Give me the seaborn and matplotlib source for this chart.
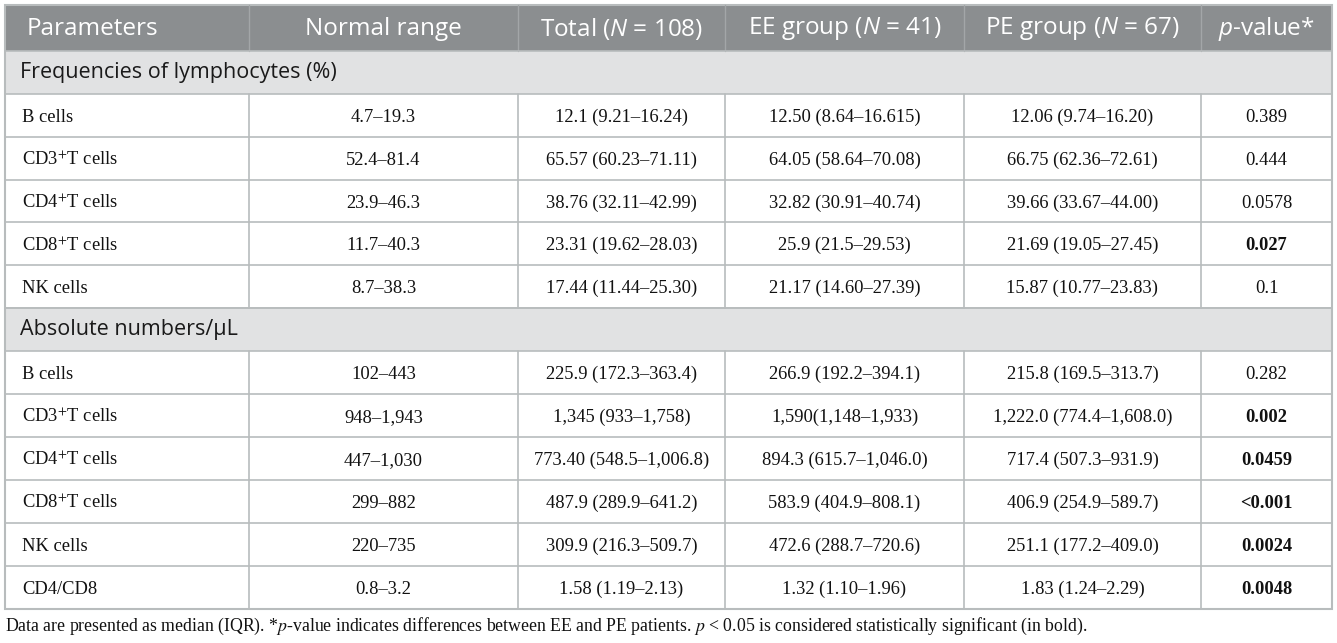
import numpy as np
import pandas as pd
import seaborn as sns
import matplotlib.pyplot as plt
from matplotlib.patches import Rectangle

# Table content
headers = ["Parameters", "Normal range", "Total ($N$ = 108)", "EE group ($N$ = 41)",
           "PE group ($N$ = 67)", "$p$-value*"]

sections = ["Frequencies of lymphocytes (%)", "Absolute numbers/\u03bcL"]

freq_params = ["B cells", "CD3$^{+}$T cells", "CD4$^{+}$T cells", "CD8$^{+}$T cells", "NK cells"]
freq_normal = ["4.7\u201319.3", "52.4\u201381.4", "23.9\u201346.3", "11.7\u201340.3", "8.7\u201338.3"]
freq_total = ["12.1 (9.21\u201316.24)", "65.57 (60.23\u201371.11)", "38.76 (32.11\u201342.99)",
              "23.31 (19.62\u201328.03)", "17.44 (11.44\u201325.30)"]
freq_ee = ["12.50 (8.64\u201316.615)", "64.05 (58.64\u201370.08)", "32.82 (30.91\u201340.74)",
           "25.9 (21.5\u201329.53)", "21.17 (14.60\u201327.39)"]
freq_pe = ["12.06 (9.74\u201316.20)", "66.75 (62.36\u201372.61)", "39.66 (33.67\u201344.00)",
           "21.69 (19.05\u201327.45)", "15.87 (10.77\u201323.83)"]
freq_p = ["0.389", "0.444", "0.0578", "0.027", "0.1"]
freq_bold = [False, False, False, True, False]

abs_params = ["B cells", "CD3$^{+}$T cells", "CD4$^{+}$T cells", "CD8$^{+}$T cells", "NK cells", "CD4/CD8"]
abs_normal = ["102\u2013443", "948\u20131,943", "447\u20131,030", "299\u2013882", "220\u2013735", "0.8\u20133.2"]
abs_total = ["225.9 (172.3\u2013363.4)", "1,345 (933\u20131,758)", "773.40 (548.5\u20131,006.8)",
             "487.9 (289.9\u2013641.2)", "309.9 (216.3\u2013509.7)", "1.58 (1.19\u20132.13)"]
abs_ee = ["266.9 (192.2\u2013394.1)", "1,590(1,148\u20131,933)", "894.3 (615.7\u20131,046.0)",
          "583.9 (404.9\u2013808.1)", "472.6 (288.7\u2013720.6)", "1.32 (1.10\u20131.96)"]
abs_pe = ["215.8 (169.5\u2013313.7)", "1,222.0 (774.4\u20131,608.0)", "717.4 (507.3\u2013931.9)",
          "406.9 (254.9\u2013589.7)", "251.1 (177.2\u2013409.0)", "1.83 (1.24\u20132.29)"]
abs_p = ["0.282", "0.002", "0.0459", "<0.001", "0.0024", "0.0048"]
abs_bold = [False, True, True, True, True, True]

footnote = ("Data are presented as median (IQR). *$p$-value indicates differences between EE and PE "
            "patients. $p$ < 0.05 is considered statistically significant (in bold).")

freq_df = pd.DataFrame({"param": freq_params, "normal": freq_normal, "total": freq_total,
                        "ee": freq_ee, "pe": freq_pe, "p": freq_p, "bold": freq_bold})
abs_df = pd.DataFrame({"param": abs_params, "normal": abs_normal, "total": abs_total,
                       "ee": abs_ee, "pe": abs_pe, "p": abs_p, "bold": abs_bold})

# Style
sns.set_theme(style="white")
plt.rcParams['font.family'] = ['Open Sans', 'DejaVu Sans']
plt.rcParams['mathtext.fontset'] = 'custom'
plt.rcParams['mathtext.rm'] = 'Open Sans'
plt.rcParams['mathtext.it'] = 'Open Sans:italic'

header_bg = "#8b8e90"
section_bg = "#e1e2e3"
line_col = "#b8bcbd"
text_col = "#111111"
sans = ['Open Sans', 'DejaVu Sans']
serif = ['Liberation Serif', 'DejaVu Serif']
cell_fs = 13.3

# Layout (pixel units)
W, H = 1337, 643
col_x = [5, 249, 518, 725, 964, 1201, 1332]
header_top, header_bot = 5, 51
sec1_bot = 94
row_h1 = (308 - sec1_bot) / len(freq_df)
sec2_top, sec2_bot = 308, 351
row_h2 = (609 - sec2_bot) / len(abs_df)

fig = plt.figure(figsize=(W / 100, H / 100), dpi=100)
ax = fig.add_axes([0, 0, 1, 1])
ax.set_xlim(0, W)
ax.set_ylim(H, 0)
ax.axis("off")

left, right = col_x[0], col_x[-1]

# header
ax.add_patch(Rectangle((left, header_top), right - left, header_bot - header_top,
                       facecolor=header_bg, edgecolor="none"))
for x in col_x[1:-1]:
    ax.plot([x, x], [header_top, header_bot], color="#a3a6a8", lw=1)
hy = (header_top + header_bot) / 2 + 1
for i, h in enumerate(headers):
    if i == 0:
        ax.text(27, hy, h, ha="left", va="center", color="white", fontsize=17.5, family=sans)
    else:
        cx = (col_x[i] + col_x[i + 1]) / 2
        ax.text(cx, hy, h, ha="center", va="center", color="white", fontsize=17.5, family=sans)


def draw_section(title, top, bot, df, row_h):
    ax.add_patch(Rectangle((left, top), right - left, bot - top,
                           facecolor=section_bg, edgecolor="none"))
    ax.text(20, (top + bot) / 2, title, ha="left", va="center", color="#1a1a1a",
            fontsize=15.5, family=sans)
    y0 = bot
    end = bot + row_h * len(df)
    for x in col_x[1:-1]:
        ax.plot([x, x], [y0, end], color=line_col, lw=1.2)
    for r, row in enumerate(df.itertuples()):
        yt = y0 + r * row_h
        ax.plot([left, right], [yt + row_h, yt + row_h], color=line_col, lw=1.2)
        cy = yt + row_h / 2 + 2
        ax.text(22, cy, row.param, ha="left", va="center", fontsize=cell_fs,
                family=serif, math_fontfamily="stix", color=text_col)
        vals = [row.normal, row.total, row.ee, row.pe, row.p]
        for j, v in enumerate(vals):
            cx = (col_x[j + 1] + col_x[j + 2]) / 2
            bold = row.bold and j == 4
            ax.text(cx, cy, v, ha="center", va="center", fontsize=cell_fs, family=serif,
                    fontweight="bold" if bold else "normal", color=text_col)
    ax.plot([left, right], [top, top], color=line_col, lw=1.2)
    ax.plot([left, right], [bot, bot], color=line_col, lw=1.2)


draw_section(sections[0], header_bot, sec1_bot, freq_df, row_h1)
draw_section(sections[1], sec2_top, sec2_bot, abs_df, row_h2)

# outer border
ax.add_patch(Rectangle((left, header_top), right - left, 609 - header_top,
                       facecolor="none", edgecolor=line_col, lw=1.5))

ax.text(5, 626, footnote, ha="left", va="center", fontsize=12.8, family=serif,
        math_fontfamily="stix", color=text_col)

fig.savefig("out.png", dpi=100)
